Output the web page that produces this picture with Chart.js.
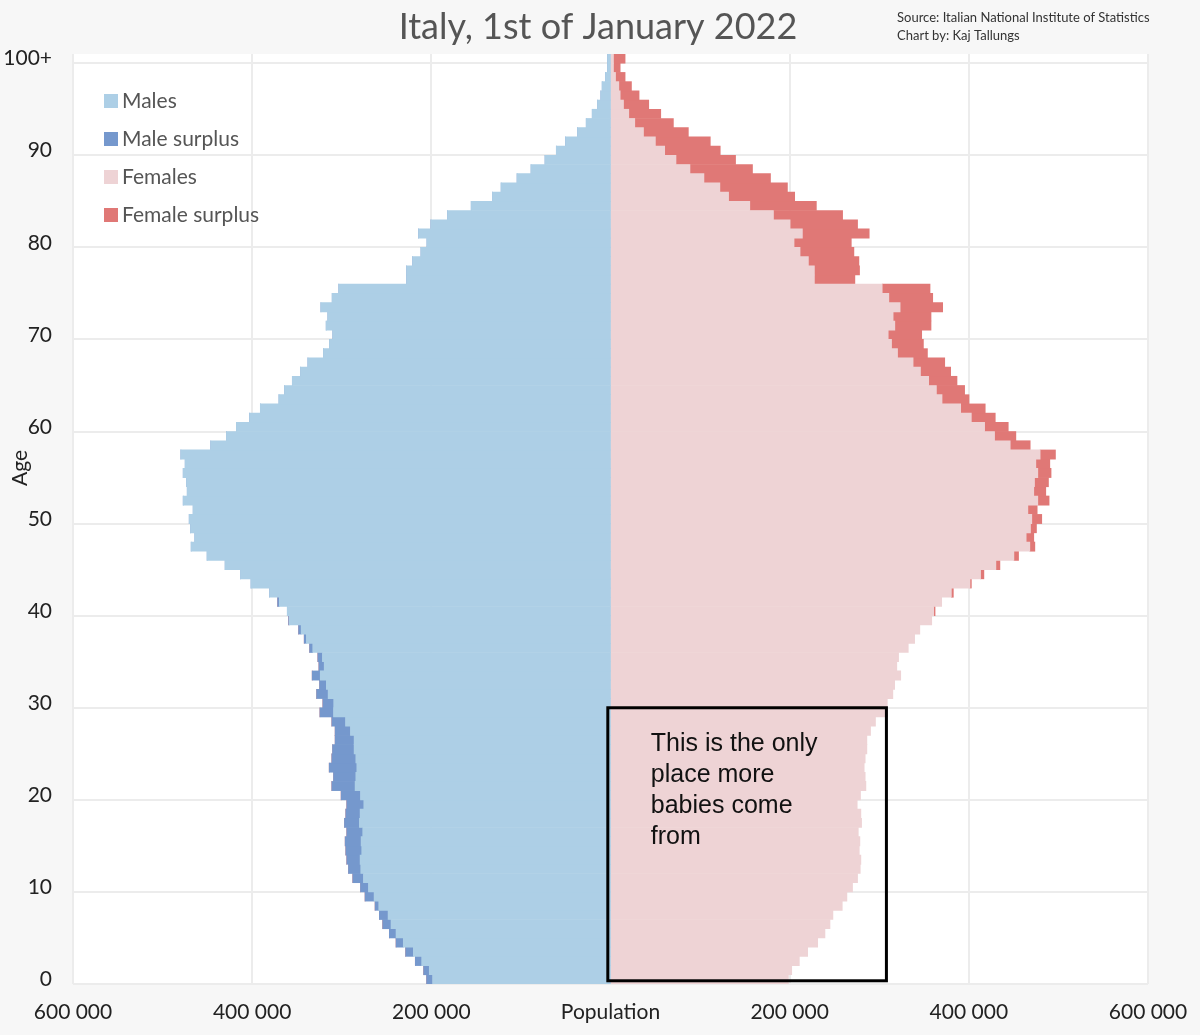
<!DOCTYPE html>
<html>
<head>
<meta charset="utf-8">
<title>Italy, 1st of January 2022</title>
<script src="https://cdn.jsdelivr.net/npm/chart.js@4.4.1/dist/chart.umd.min.js"></script>
<style>
  html, body { margin: 0; padding: 0; background: #f7f7f7; }
  #wrap { position: relative; width: 1200px; height: 1035px; }
</style>
</head>
<body>
<div id="wrap"><canvas id="pyramid"></canvas></div>
<script>
// Age groups, bottom (0) to top (100+)
const ageLabels = Array.from({ length: 101 }, (_, i) => (i === 100 ? "100+" : String(i)));

// Population by single year of age
const males = [
    205300, 208600, 217900, 228700, 239400, 246900, 254300, 258000, 262800, 274000, // 0-9
    279100, 287700, 292500, 294400, 295500, 296200, 294400, 297000, 295500, 294400, // 10-19
    300700, 311100, 309200, 314000, 311100, 310300, 307400, 307400, 311100, 324400, // 20-29
    321100, 328100, 324800, 333000, 325500, 326700, 335900, 341900, 348200, 359300, // 30-39
    360800, 371600, 380500, 401300, 413100, 430200, 450300, 468100, 464000, 468800, // 40-49
    470300, 465900, 477000, 472500, 473300, 477000, 474800, 479600, 446200, 428700, // 50-59
    417600, 402800, 390900, 370100, 363800, 355200, 346000, 337800, 320400, 313700, // 60-69
    310000, 317400, 315500, 323300, 310700, 303300, 227600, 227600, 220900, 211600, // 70-79
    204900, 214200, 200500, 181900, 155500, 131800, 122100, 104300, 88700, 73100,   // 80-89
    60500, 50100, 36800, 27100, 20400, 14500, 10800, 9300, 5600, 3300,              // 90-99
    3300                                                                            // 100+
];
const females = [
    198600, 202300, 210800, 220100, 231300, 239400, 245000, 248300, 258700, 263900, // 0-9
    270200, 275800, 278800, 279500, 277700, 278400, 276600, 280300, 279500, 275400, // 10-19
    279100, 285100, 284300, 283200, 284300, 286200, 286200, 290300, 295800, 309200, // 20-29
    309000, 315200, 317200, 324000, 319600, 321600, 332400, 339500, 345300, 358600, // 30-39
    362300, 369700, 382700, 402800, 416800, 434700, 455500, 473700, 472500, 475500, // 40-49
    481400, 476300, 489600, 485900, 488900, 491800, 490400, 496700, 468500, 452500, // 50-59
    444000, 429500, 418300, 400200, 395300, 386800, 379700, 373100, 353800, 349300, // 60-69
    347400, 357800, 357800, 370800, 359700, 356700, 272800, 278000, 277300, 271700, // 70-79
    268800, 288800, 275800, 259100, 229800, 205600, 197500, 178600, 158500, 139600, // 80-89
    122500, 111400, 86900, 70200, 56100, 42700, 31900, 23400, 16300, 10800,         // 90-99
    16300                                                                           // 100+
];

// x axis ticks
const popTicks = [-600000, -400000, -200000, 0, 200000, 400000, 600000];

// Annotation (in data units) and its text
const noteBox = { xMin: -3000, xMax: 308000, yMin: -0.15, yMax: 29.5 };
const noteLines = ["This is the only", "place more", "babies come", "from"];

const colors = {
    males: "#adcfe6",
    maleSurplus: "#7598cd",
    females: "#eed3d5",
    femaleSurplus: "#e07876"
};

// Split each age into the common part and the surplus of one sex
const common = males.map((m, i) => Math.min(m, females[i]));
const maleSurplus = males.map((m, i) => Math.max(m - females[i], 0));
const femaleSurplus = females.map((f, i) => Math.max(f - males[i], 0));

function spaced(n) {
    return String(Math.abs(n)).replace(/\B(?=(\d{3})+(?!\d))/g, " ");
}

// Background, title, legend, annotation and side texts
const decorPlugin = {
    id: "decor",
    beforeDraw(chart) {
        const { ctx, chartArea: a } = chart;
        ctx.save();
        ctx.fillStyle = "#ffffff";
        ctx.fillRect(a.left, a.top, a.right - a.left, a.bottom - a.top);
        ctx.restore();
    },
    afterDraw(chart) {
        const { ctx } = chart;
        const xs = chart.scales.x;
        const ys = chart.scales.y;
        ctx.save();

        // title
        ctx.font = "36px Lato";
        ctx.fillStyle = "#555555";
        ctx.textAlign = "center";
        ctx.textBaseline = "middle";
        ctx.fillText("Italy, 1st of January 2022", 598, 27);

        // annotation box
        const left = xs.getPixelForValue(noteBox.xMin);
        const right = xs.getPixelForValue(noteBox.xMax);
        const top = ys.getPixelForValue(noteBox.yMax);
        const bottom = ys.getPixelForValue(noteBox.yMin);
        ctx.strokeStyle = "#000000";
        ctx.lineWidth = 3;
        ctx.strokeRect(left, top, right - left, bottom - top);
        ctx.fillStyle = "#111111";
        ctx.font = '25px "Liberation Sans", Arial, sans-serif';
        ctx.textAlign = "left";
        ctx.textBaseline = "alphabetic";
        noteLines.forEach((line, i) => {
            ctx.fillText(line, left + 43, top + 43 + i * 31);
        });

        // legend
        ctx.font = "21px Lato";
        ctx.textBaseline = "middle";
        chart.data.datasets.forEach((ds, i) => {
            const cy = 101 + i * 38;
            ctx.fillStyle = ds.backgroundColor;
            ctx.fillRect(104, cy - 7, 14, 14);
            ctx.fillStyle = "#555555";
            ctx.fillText(ds.label, 122, cy);
        });

        // source
        ctx.font = "13px Lato";
        ctx.fillStyle = "#333333";
        ctx.fillText("Source: Italian National Institute of Statistics", 897, 18);
        ctx.fillText("Chart by: Kaj Tallungs", 897, 36);

        // y axis title
        ctx.translate(20, 468);
        ctx.rotate(-Math.PI / 2);
        ctx.textAlign = "center";
        ctx.font = "21px Lato";
        ctx.fillStyle = "#222222";
        ctx.fillText("Age", 0, 0);

        ctx.restore();
    }
};

Chart.defaults.font.family = "Lato";

const ctx = document.getElementById("pyramid").getContext("2d");

new Chart(ctx, {
    type: "bar",
    data: {
        labels: ageLabels,
        datasets: [
            { label: "Males", data: common.map(v => -v), backgroundColor: colors.males },
            { label: "Male surplus", data: maleSurplus.map(v => -v), backgroundColor: colors.maleSurplus },
            { label: "Females", data: common, backgroundColor: colors.females },
            { label: "Female surplus", data: femaleSurplus, backgroundColor: colors.femaleSurplus }
        ]
    },
    options: {
        indexAxis: "y",
        responsive: true,
        maintainAspectRatio: false,
        animation: false,
        devicePixelRatio: 1,
        events: [],
        datasets: {
            bar: { categoryPercentage: 1, barPercentage: 1, borderWidth: 0 }
        },
        layout: { padding: { left: 0, right: 52, top: 54, bottom: 0 } },
        plugins: {
            legend: { display: false },
            tooltip: { enabled: false },
            title: { display: false }
        },
        scales: {
            x: {
                type: "linear",
                stacked: true,
                min: -600000,
                max: 600000,
                afterBuildTicks: (scale) => {
                    scale.ticks = popTicks.map(v => ({ value: v }));
                },
                afterFit: (scale) => {
                    scale.height = 51;
                    scale.paddingLeft = 0;
                    scale.paddingRight = 0;
                },
                border: { display: false },
                grid: {
                    drawTicks: false,
                    lineWidth: (c) => (c.tick && c.tick.value === 0 ? 0 : 2),
                    color: "#ececec"
                },
                ticks: {
                    padding: 16,
                    color: "#222222",
                    font: { size: 21 },
                    maxRotation: 0,
                    callback: (v) => (v === 0 ? "Population" : spaced(v))
                }
            },
            y: {
                type: "category",
                stacked: true,
                reverse: true,
                afterFit: (scale) => { scale.width = 73; },
                border: { display: false },
                grid: {
                    drawTicks: false,
                    offset: true,
                    lineWidth: 2,
                    color: (c) => (c.index % 10 === 0 && c.index <= 100 ? "#ececec" : "rgba(0,0,0,0)")
                },
                ticks: {
                    autoSkip: false,
                    padding: 21,
                    color: "#222222",
                    font: { size: 21 },
                    callback: function (v, i) {
                        return i % 10 === 0 ? this.getLabelForValue(v) : "";
                    }
                }
            }
        }
    },
    plugins: [decorPlugin]
});
</script>
</body>
</html>
